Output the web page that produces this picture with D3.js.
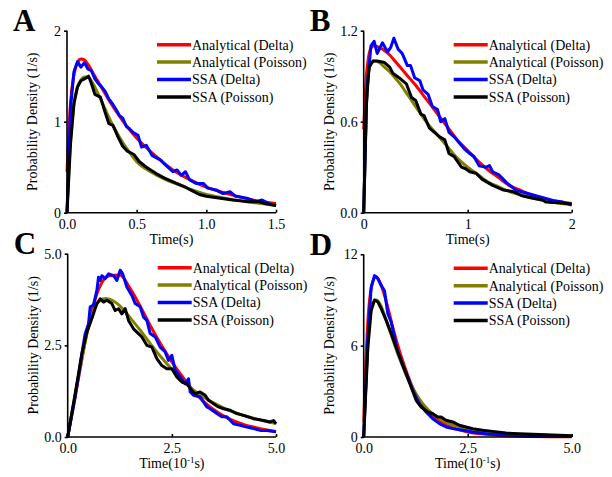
<!DOCTYPE html>
<meta charset="utf-8">
<style>
body { margin: 0; background: #fff; }
.line { fill: none; stroke-width: 3px; stroke-linejoin: round; }
.axis path, .axis line { stroke: #000; stroke-width: 1.6px; }
</style>
<body>
<script src="https://cdn.jsdelivr.net/npm/d3@7"></script>
<script>

// series names / colours
var seriesNames = ["Analytical (Delta)", "Analytical (Poisson)", "SSA (Delta)", "SSA (Poisson)"];
var seriesColors = ["#ff0000", "#808000", "#0000ff", "#000000"];

// ---- panel A : [time (s), density] ----
var anaDeltaA = [[0,0.45],[0.025,1.2],[0.05,1.52],[0.075,1.65],[0.1,1.69],[0.125,1.68],[0.15,1.63],[0.2,1.5],[0.25,1.37],[0.3,1.24],[0.35,1.12],[0.4,1.01],[0.45,0.91],[0.5,0.82],[0.6,0.67],[0.7,0.54],[0.8,0.43],[0.9,0.35],[1.0,0.28],[1.1,0.23],[1.2,0.19],[1.3,0.15],[1.4,0.12],[1.5,0.1]];
var anaPoisA = [[0,0],[0.025,0.8],[0.05,1.2],[0.075,1.38],[0.1,1.46],[0.125,1.49],[0.15,1.49],[0.175,1.45],[0.2,1.38],[0.25,1.22],[0.3,1.05],[0.35,0.9],[0.4,0.77],[0.45,0.66],[0.5,0.56],[0.6,0.45],[0.7,0.37],[0.8,0.31],[0.9,0.25],[1.0,0.2],[1.1,0.17],[1.2,0.14],[1.3,0.12],[1.4,0.1],[1.5,0.08]];
var ssaDeltaA = [[0,0],[0.025,1.15],[0.05,1.55],[0.075,1.66],[0.1,1.6],[0.125,1.65],[0.15,1.58],[0.175,1.56],[0.2,1.47],[0.225,1.42],[0.25,1.38],[0.275,1.33],[0.3,1.25],[0.325,1.2],[0.35,1.14],[0.375,1.07],[0.4,1.04],[0.425,0.95],[0.45,0.92],[0.475,0.88],[0.51,0.85],[0.535,0.72],[0.57,0.74],[0.61,0.63],[0.67,0.58],[0.71,0.52],[0.76,0.45],[0.79,0.47],[0.82,0.41],[0.85,0.45],[0.88,0.36],[0.93,0.32],[0.98,0.32],[1.01,0.27],[1.07,0.25],[1.12,0.21],[1.17,0.23],[1.21,0.18],[1.29,0.16],[1.36,0.12],[1.4,0.14],[1.45,0.1],[1.5,0.08]];
var ssaPoisA = [[0,0],[0.025,0.75],[0.05,1.2],[0.075,1.38],[0.1,1.45],[0.125,1.47],[0.155,1.5],[0.175,1.42],[0.2,1.3],[0.24,1.27],[0.27,1.12],[0.3,0.98],[0.33,0.96],[0.37,0.82],[0.4,0.73],[0.43,0.68],[0.48,0.64],[0.52,0.56],[0.57,0.5],[0.64,0.43],[0.7,0.38],[0.79,0.32],[0.85,0.28],[0.9,0.24],[0.95,0.2],[1.0,0.18],[1.05,0.17],[1.1,0.16],[1.19,0.14],[1.25,0.13],[1.3,0.12],[1.38,0.12],[1.42,0.1],[1.5,0.08]];

// ---- panel B ----
var anaDeltaB = [[0,0.55],[0.025,0.9],[0.05,1.04],[0.075,1.09],[0.1,1.1],[0.15,1.09],[0.2,1.07],[0.25,1.04],[0.3,1.0],[0.35,0.96],[0.4,0.92],[0.5,0.84],[0.6,0.75],[0.7,0.66],[0.8,0.57],[0.9,0.48],[1.0,0.41],[1.1,0.34],[1.2,0.28],[1.3,0.23],[1.4,0.18],[1.5,0.15],[1.6,0.12],[1.7,0.1],[1.8,0.08],[1.9,0.07],[2.0,0.06]];
var anaPoisB = [[0,0],[0.025,0.7],[0.05,0.93],[0.075,0.99],[0.1,1.0],[0.15,0.99],[0.2,0.96],[0.25,0.93],[0.3,0.89],[0.35,0.85],[0.4,0.8],[0.5,0.7],[0.6,0.6],[0.7,0.52],[0.8,0.44],[0.9,0.36],[1.0,0.3],[1.1,0.25],[1.2,0.2],[1.3,0.17],[1.4,0.14],[1.5,0.12],[1.6,0.1],[1.7,0.085],[1.8,0.07],[1.9,0.06],[2.0,0.055]];
var ssaDeltaB = [[0,0],[0.03,0.8],[0.07,1.1],[0.1,1.13],[0.13,1.05],[0.18,1.12],[0.23,1.06],[0.26,1.09],[0.29,1.15],[0.33,1.08],[0.37,1.05],[0.42,0.97],[0.45,0.97],[0.49,0.89],[0.54,0.87],[0.57,0.81],[0.62,0.78],[0.66,0.7],[0.71,0.68],[0.74,0.6],[0.78,0.62],[0.82,0.53],[0.87,0.5],[0.92,0.46],[0.97,0.42],[1.02,0.39],[1.06,0.37],[1.11,0.31],[1.18,0.3],[1.21,0.31],[1.24,0.27],[1.3,0.25],[1.37,0.2],[1.46,0.15],[1.56,0.13],[1.69,0.105],[1.82,0.08],[1.91,0.07],[2.0,0.05]];
var ssaPoisB = [[0,0],[0.025,0.7],[0.05,0.96],[0.09,1.0],[0.13,1.0],[0.2,0.99],[0.25,0.96],[0.28,0.92],[0.34,0.89],[0.41,0.85],[0.46,0.76],[0.5,0.74],[0.55,0.65],[0.58,0.64],[0.63,0.56],[0.68,0.53],[0.73,0.5],[0.78,0.48],[0.82,0.39],[0.87,0.37],[0.94,0.3],[0.98,0.29],[1.02,0.27],[1.08,0.26],[1.14,0.22],[1.24,0.18],[1.34,0.15],[1.43,0.14],[1.53,0.11],[1.63,0.095],[1.72,0.084],[1.75,0.07],[1.88,0.066],[2.0,0.057]];

// ---- panel C : time in 10^-1 s ----
var anaDeltaC = [[0,0],[0.25,1.55],[0.5,3.05],[0.75,4.05],[1.0,4.4],[1.25,4.42],[1.5,4.05],[1.75,3.55],[2.0,3.0],[2.25,2.5],[2.5,2.05],[2.75,1.65],[3.0,1.28],[3.25,0.98],[3.5,0.75],[3.75,0.57],[4.0,0.43],[4.25,0.33],[4.5,0.26],[4.75,0.2],[5.0,0.15]];
var anaPoisC = [[0,0],[0.25,1.6],[0.5,3.0],[0.75,3.7],[0.9,3.78],[1.0,3.76],[1.25,3.58],[1.5,3.25],[1.75,2.9],[2.0,2.52],[2.25,2.17],[2.5,1.85],[2.75,1.55],[3.0,1.3],[3.25,1.1],[3.5,0.93],[3.75,0.79],[4.0,0.67],[4.25,0.58],[4.5,0.5],[4.75,0.43],[5.0,0.37]];
var ssaDeltaC = [[0,0],[0.18,1.09],[0.34,2.27],[0.42,2.82],[0.5,3.09],[0.54,3.55],[0.62,3.6],[0.7,4.0],[0.74,4.36],[0.78,4.27],[0.82,4.4],[0.9,4.32],[0.98,4.45],[1.1,4.4],[1.18,4.27],[1.26,4.55],[1.32,4.45],[1.42,4.09],[1.54,3.86],[1.62,3.64],[1.74,3.55],[1.82,3.27],[1.9,3.18],[1.98,2.82],[2.1,2.73],[2.22,2.45],[2.34,2.32],[2.42,2.09],[2.5,2.23],[2.58,1.82],[2.7,1.64],[2.82,1.45],[2.9,1.59],[2.94,1.23],[3.02,1.14],[3.18,1.09],[3.34,0.82],[3.42,0.77],[3.58,0.64],[3.7,0.55],[3.82,0.55],[3.98,0.36],[4.14,0.32],[4.3,0.27],[4.46,0.23],[4.62,0.18],[4.78,0.18],[5.0,0.14]];
var ssaPoisC = [[0,0],[0.18,1.18],[0.34,2.27],[0.46,2.86],[0.58,3.23],[0.7,3.64],[0.78,3.77],[0.86,3.68],[0.94,3.73],[1.06,3.64],[1.14,3.45],[1.22,3.5],[1.3,3.36],[1.38,3.5],[1.46,3.18],[1.58,2.95],[1.66,2.86],[1.78,2.73],[1.9,2.5],[2.02,2.45],[2.14,2.14],[2.26,1.95],[2.38,1.86],[2.5,1.86],[2.62,1.64],[2.74,1.5],[2.86,1.45],[2.98,1.27],[3.06,1.18],[3.18,1.23],[3.3,1.14],[3.38,1.0],[3.5,0.91],[3.62,0.82],[3.74,0.77],[3.9,0.73],[4.06,0.64],[4.22,0.59],[4.46,0.5],[4.7,0.45],[4.86,0.41],[4.94,0.45],[5.0,0.36]];

// ---- panel D : time in 10^-1 s ----
var anaDeltaD = [[0,1.0],[0.1,7.6],[0.2,10.0],[0.3,10.55],[0.4,10.1],[0.5,9.3],[0.6,8.3],[0.7,7.2],[0.8,6.2],[0.9,5.3],[1.0,4.5],[1.2,3.1],[1.4,2.15],[1.6,1.5],[1.8,1.05],[2.0,0.75],[2.25,0.5],[2.5,0.33],[3.0,0.16],[3.5,0.08],[4.0,0.04],[4.5,0.02],[5.0,0.01]];
var anaPoisD = [[0,0],[0.1,6.0],[0.2,8.7],[0.3,9.0],[0.4,8.7],[0.5,8.0],[0.6,7.2],[0.7,6.4],[0.8,5.6],[0.9,4.9],[1.0,4.2],[1.2,3.1],[1.4,2.25],[1.6,1.65],[1.8,1.25],[2.0,0.95],[2.25,0.7],[2.5,0.52],[3.0,0.32],[3.5,0.2],[4.0,0.14],[4.5,0.1],[5.0,0.08]];
var ssaDeltaD = [[0,0],[0.1,6.6],[0.18,9.85],[0.26,10.6],[0.34,10.4],[0.42,9.96],[0.5,9.6],[0.58,8.1],[0.66,7.55],[0.74,6.57],[0.82,5.58],[0.94,4.7],[1.06,3.94],[1.18,3.07],[1.34,2.19],[1.5,1.64],[1.66,1.2],[1.82,0.88],[1.98,0.66],[2.14,0.55],[2.38,0.44],[2.62,0.33],[2.94,0.22],[3.26,0.15],[3.58,0.11],[3.9,0.07],[4.22,0.04],[5.0,0.04]];
var ssaPoisD = [[0,0],[0.1,5.9],[0.18,8.3],[0.26,9.0],[0.34,8.87],[0.42,8.43],[0.54,7.66],[0.66,6.8],[0.78,5.9],[0.9,5.04],[1.02,4.16],[1.14,3.28],[1.26,2.41],[1.38,1.97],[1.54,1.64],[1.66,1.53],[1.78,1.31],[1.86,1.31],[1.98,1.1],[2.14,0.99],[2.3,0.77],[2.46,0.66],[2.62,0.55],[2.86,0.44],[3.1,0.37],[3.42,0.26],[3.74,0.22],[4.06,0.18],[4.38,0.15],[4.7,0.11],[5.0,0.09]];

// tick values
var xTicksA = [0, 0.5, 1, 1.5], yTicksA = [0, 1, 2];
var xTicksB = [0, 1, 2],        yTicksB = [0, 0.6, 1.2];
var xTicksC = [0, 2.5, 5],      yTicksC = [0, 2.5, 5];
var xTicksD = [0, 2.5, 5],      yTicksD = [0, 6, 12];

// layout of the four panels (pixels)
var panels = [
  {letter: "A", left: 67,    right: 276,   top: 30.7,  bottom: 212.7, xMax: 1.5, yMax: 2,   xTicks: xTicksA, yTicks: yTicksA, xFmt: ".1f", yFmt: "d",   xLabel: "s",
   data: [anaDeltaA, anaPoisA, ssaDeltaA, ssaPoisA]},
  {letter: "B", left: 363.7, right: 571.7, top: 30.7,  bottom: 212.7, xMax: 2,   yMax: 1.2, xTicks: xTicksB, yTicks: yTicksB, xFmt: "d",   yFmt: ".1f", xLabel: "s",
   data: [anaDeltaB, anaPoisB, ssaDeltaB, ssaPoisB]},
  {letter: "C", left: 67.7,  right: 276,   top: 253.7, bottom: 437,   xMax: 5,   yMax: 5,   xTicks: xTicksC, yTicks: yTicksC, xFmt: ".1f", yFmt: ".1f", xLabel: "10",
   data: [anaDeltaC, anaPoisC, ssaDeltaC, ssaPoisC]},
  {letter: "D", left: 363.7, right: 571.7, top: 254.3, bottom: 437,   xMax: 5,   yMax: 12,  xTicks: xTicksD, yTicks: yTicksD, xFmt: ".1f", yFmt: "d",   xLabel: "10",
   data: [anaDeltaD, anaPoisD, ssaDeltaD, ssaPoisD]}
];

var SERIF = '"Liberation Serif"';

var svg = d3.select("body").append("svg")
    .attr("width", 612)
    .attr("height", 477);

panels.forEach(function(p) {
  var x = d3.scaleLinear().domain([0, p.xMax]).range([p.left, p.right]);
  var y = d3.scaleLinear().domain([0, p.yMax]).range([p.bottom, p.top]);
  var g = svg.append("g");

  // curves: analytical smooth, SSA jagged; analytical underneath
  p.data.forEach(function(d, i) {
    var line = d3.line()
        .x(function(v) { return x(v[0]); })
        .y(function(v) { return y(v[1]); })
        .curve(i < 2 ? d3.curveMonotoneX : d3.curveLinear);
    g.append("path")
      .datum(d)
      .attr("class", "line")
      .attr("stroke", seriesColors[i])
      .attr("stroke-width", i < 2 ? 3 : 3.2)
      .attr("d", line);
  });

  // axes
  var xAxis = g.append("g")
      .attr("class", "axis")
      .attr("transform", "translate(0," + p.bottom + ")")
      .call(d3.axisBottom(x).tickValues(p.xTicks).tickFormat(d3.format(p.xFmt))
        .tickSizeInner(-3).tickSizeOuter(0).tickPadding(6));
  xAxis.selectAll("text").style("font-family", SERIF).style("font-size", "14px");
  xAxis.select(".domain").attr("d", "M" + (p.left - 1) + ",0H" + p.right);

  var yAxis = g.append("g")
      .attr("class", "axis")
      .attr("transform", "translate(" + p.left + ",0)")
      .call(d3.axisLeft(y).tickValues(p.yTicks).tickFormat(d3.format(p.yFmt))
        .tickSizeInner(3).tickSizeOuter(0).tickPadding(3));
  yAxis.selectAll("text").style("font-family", SERIF).style("font-size", "14px");
  yAxis.select(".domain").attr("d", "M0," + (p.bottom + 1) + "V" + p.top);

  // axis titles
  var cx = (p.left + p.right) / 2;
  var xt = g.append("text")
      .attr("x", cx)
      .attr("y", p.bottom + 31)
      .attr("text-anchor", "middle")
      .style("font-family", SERIF)
      .style("font-size", "14px");
  if (p.xLabel === "s") {
    xt.text("Time(s)");
  } else {
    xt.append("tspan").text("Time(10");
    xt.append("tspan").attr("dy", -5).style("font-size", "9px").text("-1");
    xt.append("tspan").attr("dy", 5).text("s)");
  }
  g.append("text")
    .attr("transform", "translate(" + (p.left - 30) + "," + ((p.top + p.bottom) / 2) + ") rotate(-90)")
    .attr("text-anchor", "middle")
    .style("font-family", SERIF)
    .style("font-size", "14px")
    .text("Probability Density (1/s)");

  // panel letter
  g.append("text")
    .attr("x", p.left - 54)
    .attr("y", p.top + 0.5)
    .style("font-family", SERIF)
    .style("font-size", "31px")
    .style("font-weight", "bold")
    .text(p.letter);

  // legend
  var lg = g.append("g")
      .attr("transform", "translate(" + (p.left + 90) + "," + (p.top + 14) + ")");
  seriesNames.forEach(function(name, i) {
    lg.append("line")
      .attr("x1", 0).attr("x2", 34)
      .attr("y1", i * 17.4).attr("y2", i * 17.4)
      .attr("stroke", seriesColors[i])
      .attr("stroke-width", 3.5);
    lg.append("text")
      .attr("x", 35)
      .attr("y", i * 17.4 + 5)
      .style("font-family", SERIF)
      .style("font-size", "14px")
      .text(name);
  });
});

</script>
</body>
